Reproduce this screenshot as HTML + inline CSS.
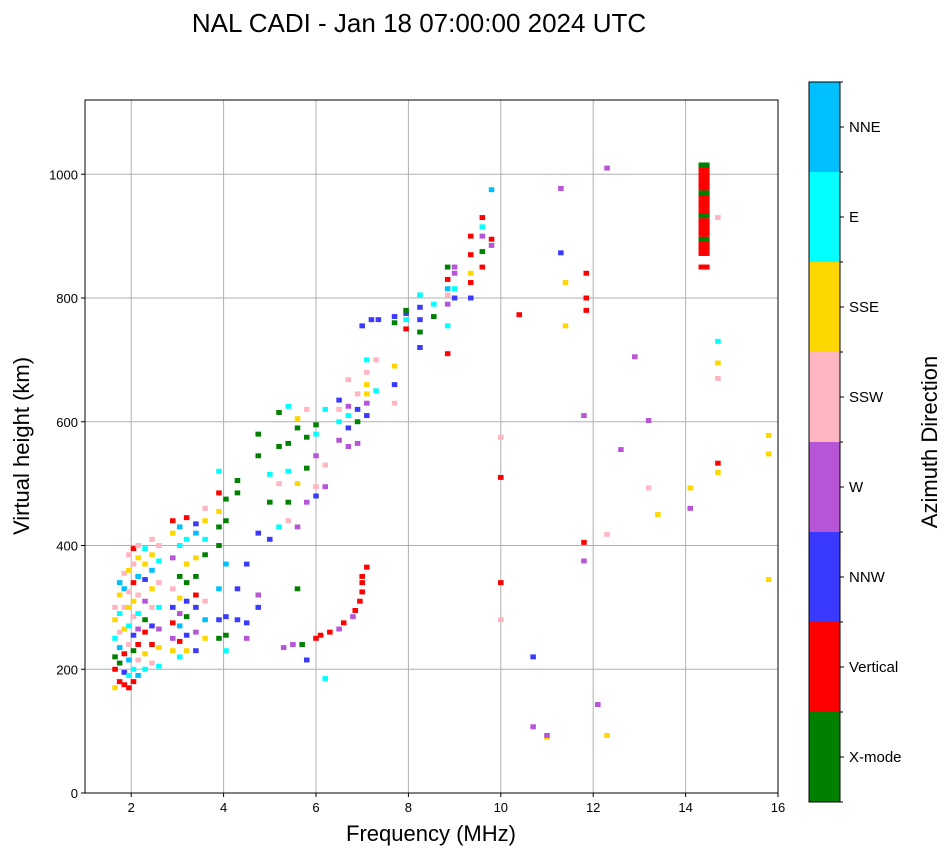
<!DOCTYPE html>
<html><head><meta charset="utf-8">
<style>
html,body{margin:0;padding:0;background:#fff;}
svg{display:block;font-family:"Liberation Sans","DejaVu Sans",sans-serif;}
</style></head>
<body>
<svg id="chart" width="951" height="856" viewBox="0 0 951 856" xmlns="http://www.w3.org/2000/svg">
<text x="419" y="32" text-anchor="middle" font-size="26">NAL CADI - Jan 18 07:00:00 2024 UTC</text>
<g id="grid"></g>
<g id="marks"></g>
<rect x="85" y="100" width="693" height="693" fill="none" stroke="#000" stroke-width="1"/>
<g id="xticks"></g>
<g id="yticks"></g>
<text x="431" y="841" text-anchor="middle" font-size="22">Frequency (MHz)</text>
<text transform="translate(29,446) rotate(-90)" text-anchor="middle" font-size="22">Virtual height (km)</text>
<g id="cbar"></g>
<text transform="translate(937,442) rotate(-90)" text-anchor="middle" font-size="22">Azimuth Direction</text>
</svg>
<script>
const xTicks=[2,4,6,8,10,12,14,16];
const yTicks=[0,200,400,600,800,1000];
const dirLabels=["X-mode","Vertical","NNW","W","SSW","SSE","E","NNE"];
const dirColors=["#008000","#ff0000","#3a3aff","#b655d6","#ffb6c1","#ffd700","#00ffff","#00bfff"];
const freqs=[
1.65,1.65,1.65,1.65,1.65,1.65,
1.75,1.75,1.75,1.75,1.75,1.75,1.75,
1.85,1.85,1.85,1.85,1.85,1.85,1.85,
1.95,1.95,1.95,1.95,1.95,1.95,1.95,1.95,1.95,
2.05,2.05,2.05,2.05,2.05,2.05,2.05,2.05,2.05,
2.15,2.15,2.15,2.15,2.15,2.15,2.15,2.15,2.15,
2.3,2.3,2.3,2.3,2.3,2.3,2.3,2.3,
2.45,2.45,2.45,2.45,2.45,2.45,2.45,2.45,
2.6,2.6,2.6,2.6,2.6,2.6,2.6,
2.9,2.9,2.9,2.9,2.9,2.9,2.9,2.9,
3.05,3.05,3.05,3.05,3.05,3.05,3.05,3.05,
3.2,3.2,3.2,3.2,3.2,3.2,3.2,3.2,
3.4,3.4,3.4,3.4,3.4,3.4,3.4,3.4,
3.6,3.6,3.6,3.6,3.6,3.6,3.6,
3.9,3.9,3.9,3.9,3.9,3.9,3.9,3.9,
4.05,4.05,4.05,4.05,4.05,4.05,
4.3,4.3,4.3,4.3,
4.5,4.5,4.5,
4.75,4.75,4.75,4.75,4.75,
5.0,5.0,5.0,
5.2,5.2,5.2,5.2,
5.4,5.4,5.4,5.4,5.4,
5.6,5.6,5.6,5.6,5.6,
5.8,5.8,5.8,5.8,5.8,
6.0,6.0,6.0,6.0,6.0,
6.2,6.2,6.2,6.2,
6.5,6.5,6.5,6.5,
6.7,6.7,6.7,6.7,6.7,
6.9,6.9,6.9,6.9,
7.1,7.1,7.1,7.1,7.1,7.1,
7.3,7.3,7.0,7.2,7.35,
7.7,7.7,7.7,7.7,7.7,
7.95,7.95,7.95,7.95,
8.25,8.25,8.25,8.25,8.25,
8.55,8.55,
8.85,8.85,8.85,8.85,8.85,8.85,8.85,
9.0,9.0,9.0,9.0,
9.35,9.35,9.35,9.35,9.35,
9.6,9.6,9.6,9.6,9.6,
9.8,9.8,9.8,
5.3,5.5,5.7,6.0,6.1,6.3,6.5,6.6,6.8,6.85,6.95,7.0,7.0,7.0,7.1,
14.34,14.34,14.34,14.34,14.34,14.34,14.34,14.34,14.34,14.34,14.34,14.34,14.34,14.34,14.34,14.34,14.34,14.34,14.34,14.34,14.34,
14.4,14.4,14.4,14.4,14.4,14.4,14.4,14.4,14.4,14.4,14.4,14.4,14.4,14.4,14.4,14.4,14.4,14.4,14.4,14.4,14.4,
14.46,14.46,14.46,14.46,14.46,14.46,14.46,14.46,14.46,14.46,14.46,14.46,14.46,14.46,14.46,14.46,14.46,14.46,14.46,14.46,14.46,
10,10,10,10,10.7,10.7,11,11,11.8,11.8,11.8,11.85,11.85,11.85,12.1,12.3,12.3,12.6,12.9,13.2,13.4,13.2,14.1,14.1,14.7,14.7,14.7,14.7,14.7,15.8,15.8,15.8,12.3,11.3,11.3,11.4,11.4,10.4,14.7
];
const heights=[
170,200,220,250,280,300,
180,210,235,260,290,320,340,
175,195,225,265,300,330,355,
170,190,215,240,270,300,325,360,385,
180,200,230,255,285,310,340,370,395,
190,215,240,265,290,320,350,380,400,
200,225,260,280,310,345,370,395,
210,240,270,300,330,360,385,410,
205,235,265,300,340,375,400,
230,250,275,300,330,380,420,440,
220,245,270,290,315,350,400,430,
230,255,285,310,340,370,410,445,
230,260,300,320,350,380,420,435,
250,280,310,385,410,440,460,
250,280,330,400,430,455,485,520,
230,255,285,370,440,475,
280,330,485,505,
250,275,370,
300,320,420,545,580,
410,470,515,
430,500,560,615,
440,470,520,565,625,
330,430,500,590,605,
215,470,525,575,620,
480,495,545,580,595,
185,530,495,620,
570,600,620,635,
560,590,610,625,668,
565,600,620,645,
610,630,645,660,680,700,
650,700,755,765,765,
630,660,690,760,770,
750,765,775,780,
720,745,765,785,805,
770,790,
710,755,790,805,815,830,850,
800,815,840,850,
800,825,840,870,900,
850,875,900,915,930,
885,895,975,
235,240,240,250,255,260,265,275,285,295,310,325,340,350,365,
850,872,880,888,895,903,910,918,925,933,940,948,955,963,970,978,985,993,1000,1008,1015,
850,872,880,888,895,903,910,918,925,933,940,948,955,963,970,978,985,993,1000,1008,1015,
850,872,880,888,895,903,910,918,925,933,940,948,955,963,970,978,985,993,1000,1008,1015,
510,340,575,280,220,107,90,93,405,375,610,780,800,840,143,93,418,555,705,602,450,493,460,493,730,695,670,533,518,578,548,345,1010,977,873,825,755,773,930
];
const dirs=[
5,1,0,6,5,4,
1,0,7,4,6,5,7,
1,2,1,5,4,7,4,
1,6,7,4,6,5,4,5,4,
1,6,0,2,4,5,1,4,1,
7,4,1,3,6,4,7,5,4,
6,5,1,0,3,2,5,6,
4,1,2,4,5,7,5,4,
6,5,3,6,4,6,4,
5,3,1,2,4,3,5,1,
6,1,7,3,5,0,6,7,
5,2,0,2,0,5,6,1,
2,3,2,1,0,5,7,2,
5,7,4,0,6,5,4,
0,2,7,0,0,5,1,6,
6,0,2,7,0,0,
2,2,0,0,
3,2,2,
2,3,2,0,0,
2,0,6,
6,4,0,0,
4,0,6,0,6,
0,3,5,0,5,
2,3,0,0,4,
2,4,3,6,0,
6,4,3,6,
3,6,4,2,
3,2,6,3,4,
3,0,2,4,
2,3,5,5,4,6,
6,4,2,2,2,
4,2,5,0,2,
1,6,2,0,
2,0,2,2,6,
0,6,
1,6,3,4,7,1,0,
2,6,3,3,
2,1,5,1,1,
1,0,3,6,1,
3,1,7,
3,3,0,1,1,1,3,1,3,1,1,1,1,1,1,
1,1,1,1,0,1,1,1,1,0,1,1,1,1,0,1,1,1,1,1,0,
1,1,1,1,0,1,1,1,1,0,1,1,1,1,0,1,1,1,1,1,0,
1,1,1,1,0,1,1,1,1,0,1,1,1,1,0,1,1,1,1,1,0,
1,1,4,4,2,3,5,3,1,3,3,1,1,1,3,5,4,3,3,3,5,4,3,5,6,5,4,1,5,5,5,5,3,3,2,5,5,1,4
];
const NS="http://www.w3.org/2000/svg";
const X0=85,X1=778,Y0=793,Y1=100,XMIN=1,XMAX=16,YMIN=0,YMAX=1120;
function xs(f){return X0+(f-XMIN)/(XMAX-XMIN)*(X1-X0);}
function ys(h){return Y0-(h-YMIN)/(YMAX-YMIN)*(Y0-Y1);}
function mk(tag,attrs,parent){const e=document.createElementNS(NS,tag);for(const k in attrs)e.setAttribute(k,attrs[k]);parent.appendChild(e);return e;}
const grid=document.getElementById('grid'),xt=document.getElementById('xticks'),yt=document.getElementById('yticks');
xTicks.forEach(v=>{const x=xs(v);
 const g=mk('line',{x1:x,x2:x,y1:Y1,y2:Y0,stroke:'#b0b0b0','stroke-width':1},grid);
 
 
 mk('line',{x1:x,x2:x,y1:Y0,y2:Y0+4,stroke:'#000'},xt);
 const t=mk('text',{x:x,y:Y0+19,'text-anchor':'middle','font-size':13},xt);t.textContent=v;
 
 
});
yTicks.forEach(v=>{const y=ys(v);
 const g=mk('line',{x1:X0,x2:X1,y1:y,y2:y,stroke:'#b0b0b0','stroke-width':1},grid);
 
 
 mk('line',{x1:X0-4,x2:X0,y1:y,y2:y,stroke:'#000'},yt);
 const t=mk('text',{x:X0-7,y:y+5,'text-anchor':'end','font-size':13},yt);t.textContent=v;
 
 
});
const marks=document.getElementById('marks');
const FW=0.12,HW=8;
for(let i=0;i<freqs.length;i++){
 const x=xs(freqs[i]-FW/2),w=xs(freqs[i]+FW/2)-x;
 const y=ys(heights[i]+HW/2),h=ys(heights[i]-HW/2)-y;
 const r=mk('rect',{x:x,y:y,width:w,height:h,fill:dirColors[dirs[i]]},marks);
 
 
}
const cb=document.getElementById('cbar');
const CX=809,CW=31,CT=82,CB=802,n=dirLabels.length,seg=(CB-CT)/n;
for(let i=0;i<n;i++){
 const y=CB-(i+1)*seg;
 const r=mk('rect',{x:CX,y:y,width:CW,height:seg,fill:dirColors[i]},cb);
 
 
 const yc=y+seg/2;
 mk('line',{x1:CX+CW,x2:CX+CW+4,y1:yc,y2:yc,stroke:'#000'},cb);
 const t=mk('text',{x:CX+CW+9,y:yc+5,'font-size':15},cb);t.textContent=dirLabels[i];
 
 
}
for(let i=0;i<=n;i++){const y=CT+i*seg;mk('line',{x1:CX+CW,x2:CX+CW+3,y1:y,y2:y,stroke:'#000'},cb);}
mk('rect',{x:CX,y:CT,width:CW,height:CB-CT,fill:'none',stroke:'#000'},cb);
</script>
</body></html>
